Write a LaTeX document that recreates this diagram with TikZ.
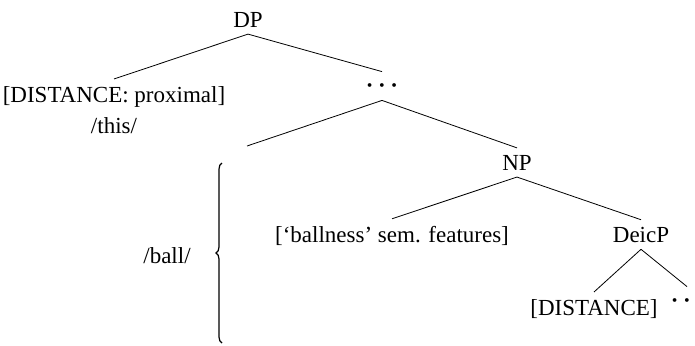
\documentclass[tikz,border=0pt]{standalone}
\usepackage{fontspec}
\setmainfont{Liberation Serif}
\usetikzlibrary{decorations.pathreplacing}
\tikzset{%
  word/.style={inner sep=3.33pt, font=\fontsize{11.5}{13}\selectfont},
  ellipsis/.style={inner sep=0pt, minimum height=10pt, minimum width=10pt,
    font=\fontsize{12}{14}\selectfont\boldmath},
  branch/.style={line width=0.4pt, draw=#1},
  branch/.default=black,
  bracket/.style={decorate, decoration={brace, amplitude=3pt}, line width=0.6pt}
}

\begin{document}
\begin{tikzpicture}[x=0.5pt, y=-0.5pt]

    \useasboundingbox (0,0) rectangle (695,345);

    % Define the labels of the tree (placed at their baselines)
    \node[word, anchor=base] (dp) at (248,27) {DP};
    \node[word, anchor=base] (prox) at (114,102) {[DISTANCE: proximal]};
    \node[word, anchor=base] (this) at (114,133) {/this/};
    \node[ellipsis] (mid) at (382,86) {$\cdots$};
    \coordinate (gap) at (247,146);
    \node[word, anchor=base] (np) at (517,170) {NP};
    \node[word, anchor=base] (sem) at (392,242) {[‘ballness’ sem. features]};
    \node[word, anchor=base] (deic) at (641,242) {DeicP};
    \node[word, anchor=base] (dist) at (594,315) {[DISTANCE]};
    \node[ellipsis] (enddots) at (687,301) {$\cdots$};

    % Draw the branches
    \draw[branch] (dp.south) -- (prox.north);
    \draw[branch] (dp.south) -- ([yshift=2pt]mid.north);
    \draw[branch] ([yshift=-2pt]mid.south) -- (gap);
    \draw[branch] ([yshift=-2pt]mid.south) -- (np.north);
    \draw[branch] (np.south) -- (sem.north);
    \draw[branch] (np.south) -- (deic.north);
    \draw[branch] (deic.south) -- (dist.north);
    \draw[branch] (deic.south) -- ([yshift=2pt]enddots.north);

    % The brace and its label
    \coordinate (bb) at (222,343);
    \coordinate (bt) at (222,163);
    \draw[bracket] (bb) -- (bt);
    \node[word, anchor=base] (ball) at (167,263) {/ball/};

\end{tikzpicture}
\end{document}
